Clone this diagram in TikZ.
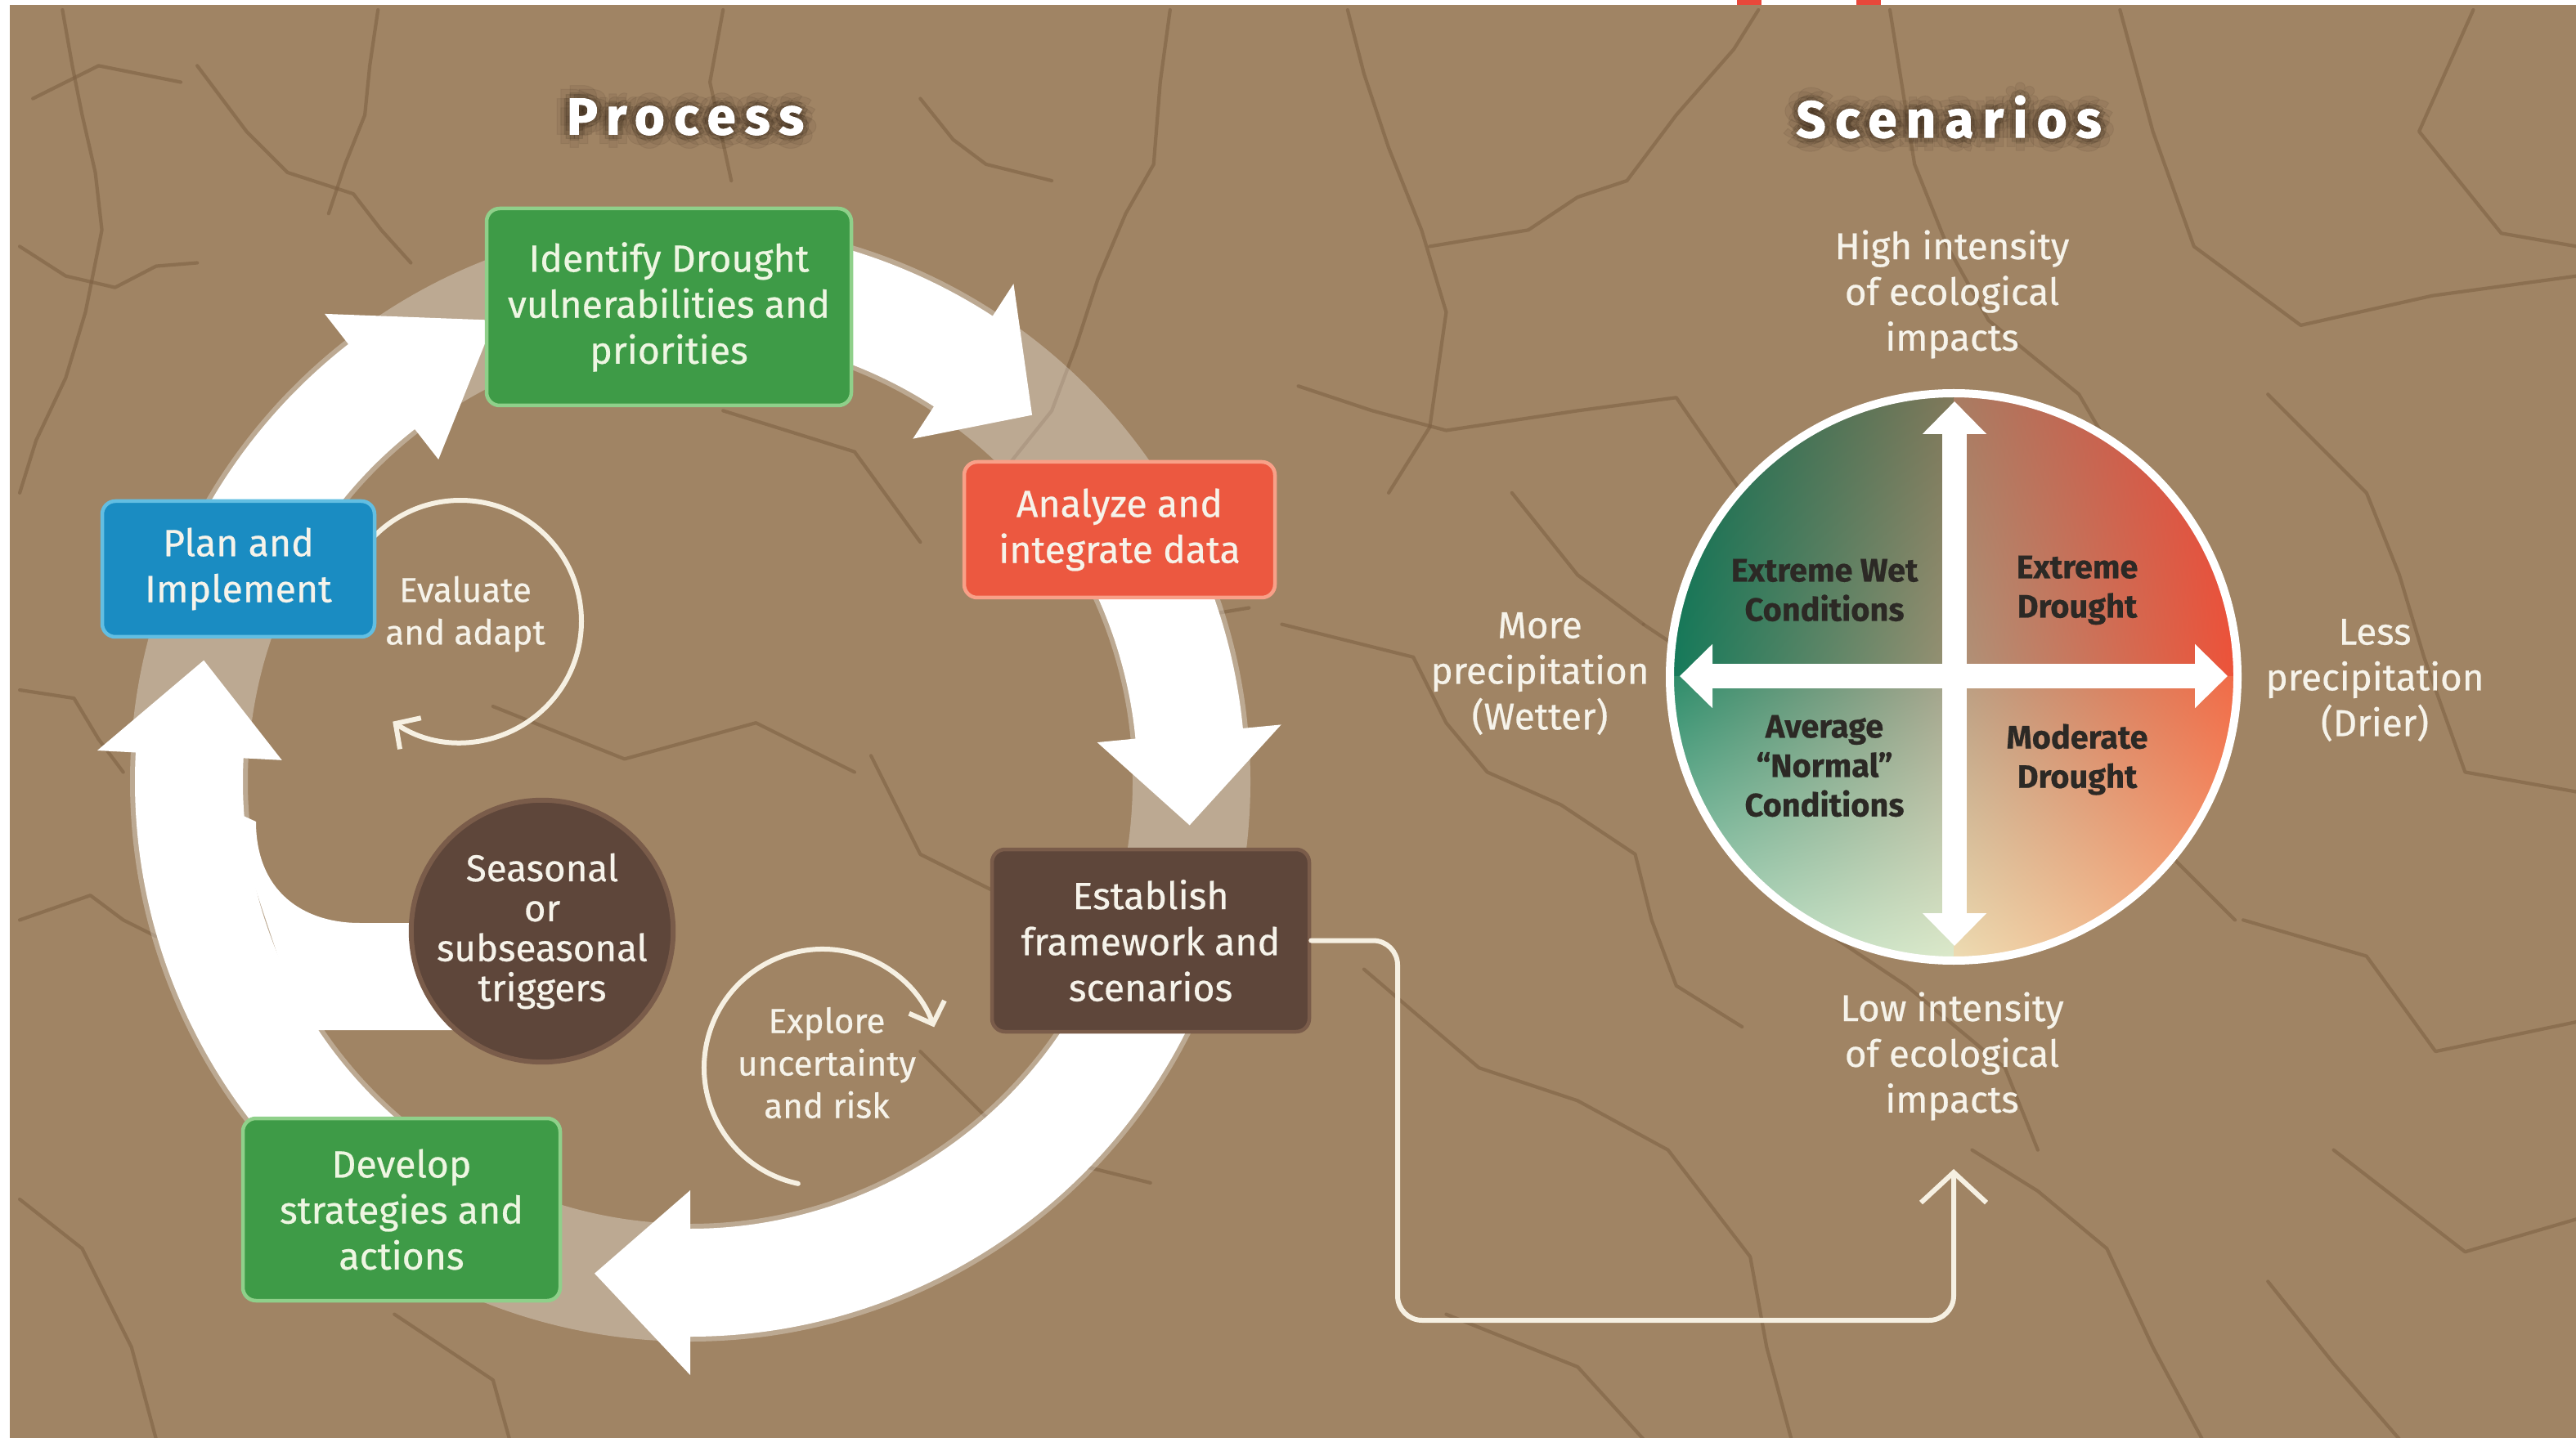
\documentclass[tikz,border=0pt]{standalone}
\usepackage{fontspec}
\setmainfont{Fira Sans}[FakeBold=0.5]
\newfontfamily\titlefont{Fira Sans}[LetterSpace=18, FakeBold=1.6]
\usetikzlibrary{arrows.meta,calc,shadings}
\definecolor{bg}{HTML}{A08464}
\definecolor{crackc}{HTML}{7E6144}
\definecolor{gfill}{HTML}{3E9B47}
\definecolor{gline}{HTML}{8FD08A}
\definecolor{rfill}{HTML}{EC5840}
\definecolor{rline}{HTML}{F8A088}
\definecolor{bfill}{HTML}{5E463A}
\definecolor{bline}{HTML}{7A5C4A}
\definecolor{blfill}{HTML}{1A8CC2}
\definecolor{blline}{HTML}{62BEE2}
\definecolor{txt}{HTML}{F6F3EA}
\definecolor{gtxt}{HTML}{EEF6E2}
\definecolor{cream}{HTML}{F6F0E2}
\definecolor{dtext}{HTML}{2C2925}
\definecolor{shadowc}{HTML}{3A2A1C}
\definecolor{redmark}{HTML}{E8483A}
\definecolor{qa}{HTML}{0E6A4E}\definecolor{qb}{HTML}{80785A}
\definecolor{qc}{HTML}{137A5A}\definecolor{qd}{HTML}{9A9274}
\definecolor{qe}{HTML}{A87C62}\definecolor{qf}{HTML}{E6463A}
\definecolor{qg}{HTML}{AE947A}\definecolor{qh}{HTML}{EE5238}
\definecolor{qi}{HTML}{2C8C6A}\definecolor{qj}{HTML}{A8A48C}
\definecolor{qk}{HTML}{B4DCC4}\definecolor{ql}{HTML}{DCEACB}
\definecolor{qm}{HTML}{B8A084}\definecolor{qn}{HTML}{F26A46}
\definecolor{qo}{HTML}{EEDCB2}\definecolor{qp}{HTML}{F9A678}
\def\ringR{6.13}
\def\ringRo{6.79}
\def\ringRi{5.47}
\def\ringHo{7.26}
\def\ringHi{5.00}
\newcommand{\ringarrow}[3]{%
  \fill[white] ($(C)+(#1:\ringRo)$) arc[start angle=#1, end angle=#2, radius=\ringRo]
    -- ($(C)+(#2:\ringHo)$) -- ($(C)+(#3:\ringR)$) -- ($(C)+(#2:\ringHi)$)
    -- ($(C)+(#2:\ringRi)$) arc[start angle=#2, end angle=#1, radius=\ringRi] -- cycle;}
\begin{document}
\begin{tikzpicture}[
  box/.style={draw, line width=0.045cm, rounded corners=0.16cm, align=center, inner sep=0pt,
    text=txt, font=\fontsize{13.2}{16}\selectfont},
  lbl/.style={align=center, text=txt, font=\fontsize{13}{15.9}\selectfont},
  small/.style={align=center, text=txt, font=\fontsize{12}{14.8}\selectfont},
  quad/.style={align=center, text=dtext, font=\bfseries\fontsize{11.3}{13.7}\selectfont},
  ttl/.style={font=\titlefont\bfseries\fontsize{18}{20}\selectfont},
  crackline/.style={draw=crackc, line width=1.2pt, line join=round, line cap=round, opacity=0.6},
  chev/.style={draw=cream, line width=0.06cm, line cap=round,
    -{Straight Barb[length=0.22cm, width=0.46cm]}},
]
\useasboundingbox (0,0) rectangle (31.5,-17.59);
% background
\fill[white] (0,0) rectangle (31.5,-17.59);
\fill[bg] (0.12,-0.06) rectangle (31.5,-17.59);
\fill[redmark] (21.24,0) rectangle (21.54,-0.06);
\fill[redmark] (22.70,0) rectangle (23.00,-0.06);
% cracks
\begin{scope}[x=0.02009cm, y=-0.02009cm]
\draw[crackline] (38,6) -- (44,40) -- (50,70) -- (58,105) -- (62,140) -- (52,190) -- (40,230) -- (22,268) -- (12,300);
\draw[crackline] (12,150) -- (40,168) -- (70,175) -- (95,162) -- (120,160);
\draw[crackline] (120,40) -- (150,80) -- (175,105) -- (215,118) -- (232,140) -- (250,160);
\draw[crackline] (230,6) -- (225,40) -- (222,70) -- (210,100) -- (200,130);
\draw[crackline] (12,420) -- (45,425) -- (60,450) -- (75,470);
\draw[crackline] (12,560) -- (55,545) -- (75,560) -- (95,570);
\draw[crackline] (12,730) -- (50,760) -- (65,790) -- (80,820) -- (95,876);
\draw[crackline] (440,6) -- (432,50) -- (445,110);
\draw[crackline] (712,6) -- (706,50) -- (702,100) -- (685,130) -- (668,170) -- (655,210) -- (640,250) -- (600,300);
\draw[crackline] (560,60) -- (580,85) -- (600,100) -- (640,110);
\draw[crackline] (820,6) -- (830,45) -- (845,90) -- (865,140) -- (880,190) -- (870,260) -- (845,300);
\draw[crackline] (870,150) -- (930,140) -- (960,120) -- (990,110) -- (1020,70) -- (1055,30) -- (1070,6);
\draw[crackline] (790,235) -- (835,250) -- (880,262) -- (960,250) -- (1020,242) -- (1060,300);
\draw[crackline] (780,380) -- (860,400) -- (880,440) -- (905,470) -- (950,490) -- (995,520) -- (1005,560) -- (1020,600) -- (1060,625);
\draw[crackline] (830,590) -- (900,650) -- (960,670) -- (1015,700) -- (1065,765) -- (1075,820) -- (1090,876);
\draw[crackline] (1150,6) -- (1165,100) -- (1185,150) -- (1210,195) -- (1265,240) -- (1300,300);
\draw[crackline] (1290,6) -- (1310,80) -- (1335,150) -- (1400,198) -- (1480,180) -- (1568,168);
\draw[crackline] (1380,240) -- (1440,300) -- (1460,350) -- (1475,400) -- (1500,470) -- (1568,482);
\draw[crackline] (1365,560) -- (1440,582) -- (1482,640) -- (1568,622);
\draw[crackline] (1200,700) -- (1240,725) -- (1282,760) -- (1310,820) -- (1340,876);
\draw[crackline] (1420,700) -- (1500,762) -- (1568,742);
\draw[crackline] (880,800) -- (960,832) -- (1000,876);
\draw[crackline] (1505,6) -- (1472,80) -- (1522,142) -- (1568,150);
\draw[crackline] (300,430) -- (380,462) -- (460,440) -- (520,470);
\draw[crackline] (440,250) -- (520,275) -- (560,330);
\draw[crackline] (530,460) -- (560,520) -- (610,545);
\draw[crackline] (560,640) -- (620,700) -- (700,720);
\draw[crackline] (1100,560) -- (1160,600) -- (1220,650) -- (1240,700);
\draw[crackline] (1000,380) -- (1060,420) -- (1100,500);
\draw[crackline] (640,330) -- (700,380) -- (760,370);
\draw[crackline] (240,800) -- (300,840) -- (310,876);
\draw[crackline] (1380,780) -- (1420,830) -- (1460,876);
\draw[crackline] (1060,300) -- (1120,330) -- (1180,320) -- (1240,360);
\draw[crackline] (920,300) -- (960,350) -- (1000,380);
\draw[crackline] (1240,450) -- (1300,500) -- (1360,560);
\draw[crackline] (20,60) -- (60,40) -- (110,50);
\end{scope}
% titles
\coordinate (tp) at (8.38,-1.43);
\coordinate (ts) at (23.83,-1.43);
\foreach \a in {0,45,...,315}{
  \node[ttl, text=shadowc, opacity=0.14] (psha\a) at ($(tp)+(\a:0.07)$) {Process};
  \node[ttl, text=shadowc, opacity=0.14] (ssha\a) at ($(ts)+(\a:0.07)$) {Scenarios};
  \node[ttl, text=shadowc, opacity=0.08] (pshb\a) at ($(tp)+(\a:0.16)$) {Process};
  \node[ttl, text=shadowc, opacity=0.08] (sshb\a) at ($(ts)+(\a:0.16)$) {Scenarios};
}
\node[ttl, text=white] (tproc) at (tp) {Process};
\node[ttl, text=white] (tscen) at (ts) {Scenarios};
% ring
\coordinate (C) at (8.44,-9.56);
\draw[white, opacity=0.3, line width=1.44cm] (C) circle[radius=\ringR];
\ringarrow{152}{128}{113}
\ringarrow{80}{57}{47}
\ringarrow{32}{5.5}{-5}
\ringarrow{-25}{-90}{-101}
\ringarrow{240}{177}{166}
\fill[white] (2.80,-9.90) -- (3.13,-10.05) .. controls (3.13,-10.90) and (3.70,-11.29) .. (4.40,-11.29)
  -- (6.00,-11.29) -- (6.00,-12.60) -- (3.70,-12.60) -- cycle;
% small loops
\coordinate (ev) at (5.63,-7.60);
\coordinate (ex) at (10.06,-13.06);
\draw[chev] ($(ev)+(135:1.48)$) arc[start angle=135, end angle=-124, radius=1.48];
\draw[chev] ($(ex)+(258:1.45)$) arc[start angle=258, end angle=20, radius=1.45];
% boxes
\node[box, fill=gfill, draw=gline, text=gtxt, minimum width=4.46cm, minimum height=2.41cm] (ident) at (8.18,-3.755) {Identify Drought\\vulnerabilities and\\priorities};
\node[box, fill=rfill, draw=rline, minimum width=3.80cm, minimum height=1.66cm] (anal) at (13.69,-6.48) {Analyze and\\integrate data};
\node[box, fill=bfill, draw=bline, minimum width=3.88cm, minimum height=2.23cm] (est) at (14.07,-11.505) {Establish\\framework and\\scenarios};
\node[box, fill=gfill, draw=gline, text=gtxt, minimum width=3.88cm, minimum height=2.23cm] (dev) at (4.91,-14.795) {Develop\\strategies and\\actions};
\node[box, fill=blfill, draw=blline, minimum width=3.33cm, minimum height=1.66cm] (plan) at (2.915,-6.96) {Plan and\\Implement};
\node[circle, fill=bfill, draw=bline, line width=0.06cm, minimum size=3.2cm, align=center, inner sep=0pt,
  text=txt, font=\fontsize{13}{13.9}\selectfont] (seas) at (6.63,-11.39) {Seasonal\\or\\subseasonal\\triggers};
\node[small] (evt) at (5.69,-7.51) {Evaluate\\and adapt};
\node[small] (ext) at (10.11,-13.00) {Explore\\uncertainty\\and risk};
% scenarios
\coordinate (S) at (23.89,-8.28);
\begin{scope}
\clip (S) circle[radius=3.46];
\shade[upper left=qa, upper right=qb, lower left=qc, lower right=qd] ($(S)+(-3.5,0)$) rectangle ($(S)+(0,3.5)$);
\shade[upper left=qe, upper right=qf, lower left=qg, lower right=qh] ($(S)+(0,0)$) rectangle ($(S)+(3.5,3.5)$);
\shade[upper left=qi, upper right=qj, lower left=qk, lower right=ql] ($(S)+(-3.5,-3.5)$) rectangle ($(S)+(0,0)$);
\shade[upper left=qm, upper right=qn, lower left=qo, lower right=qp] ($(S)+(0,-3.5)$) rectangle ($(S)+(3.5,0)$);
\end{scope}
\draw[white, line width=0.1cm] (S) circle[radius=3.47];
\coordinate (vtop) at (23.90,-4.91);
\coordinate (vbot) at (23.90,-11.57);
\coordinate (hleft) at (20.54,-8.27);
\coordinate (hright) at (27.24,-8.27);
\draw[white, line width=0.3cm, {Triangle[width=0.76cm, length=0.40cm]}-{Triangle[width=0.76cm, length=0.40cm]}] (vtop) -- (vbot);
\draw[white, line width=0.3cm, {Triangle[width=0.76cm, length=0.40cm]}-{Triangle[width=0.76cm, length=0.40cm]}] (hleft) -- (hright);
\node[quad] (qew) at (22.31,-7.22) {Extreme Wet\\Conditions};
\node[quad] (qed) at (25.40,-7.22) {Extreme\\Drought};
\node[quad] (qan) at (22.31,-9.37) {Average\\“Normal”\\Conditions};
\node[quad] (qmd) at (25.40,-9.29) {Moderate\\Drought};
\node[lbl] (hi) at (23.87,-3.60) {High intensity\\of ecological\\impacts};
\node[lbl] (lo) at (23.87,-12.92) {Low intensity\\of ecological\\impacts};
\node[lbl] (more) at (18.83,-8.24) {More\\precipitation\\(Wetter)};
\node[lbl] (less) at (29.04,-8.32) {Less\\precipitation\\(Drier)};
% connector
\coordinate (cbend) at (17.09,-16.15);
\coordinate (lowtip) at (23.89,-14.30);
\draw[draw=cream, line width=0.06cm, rounded corners=0.3cm, line cap=round,
  -{Straight Barb[length=0.37cm, width=0.8cm]}] (est.east) -| (cbend) -| (lowtip);
\end{tikzpicture}
\end{document}
